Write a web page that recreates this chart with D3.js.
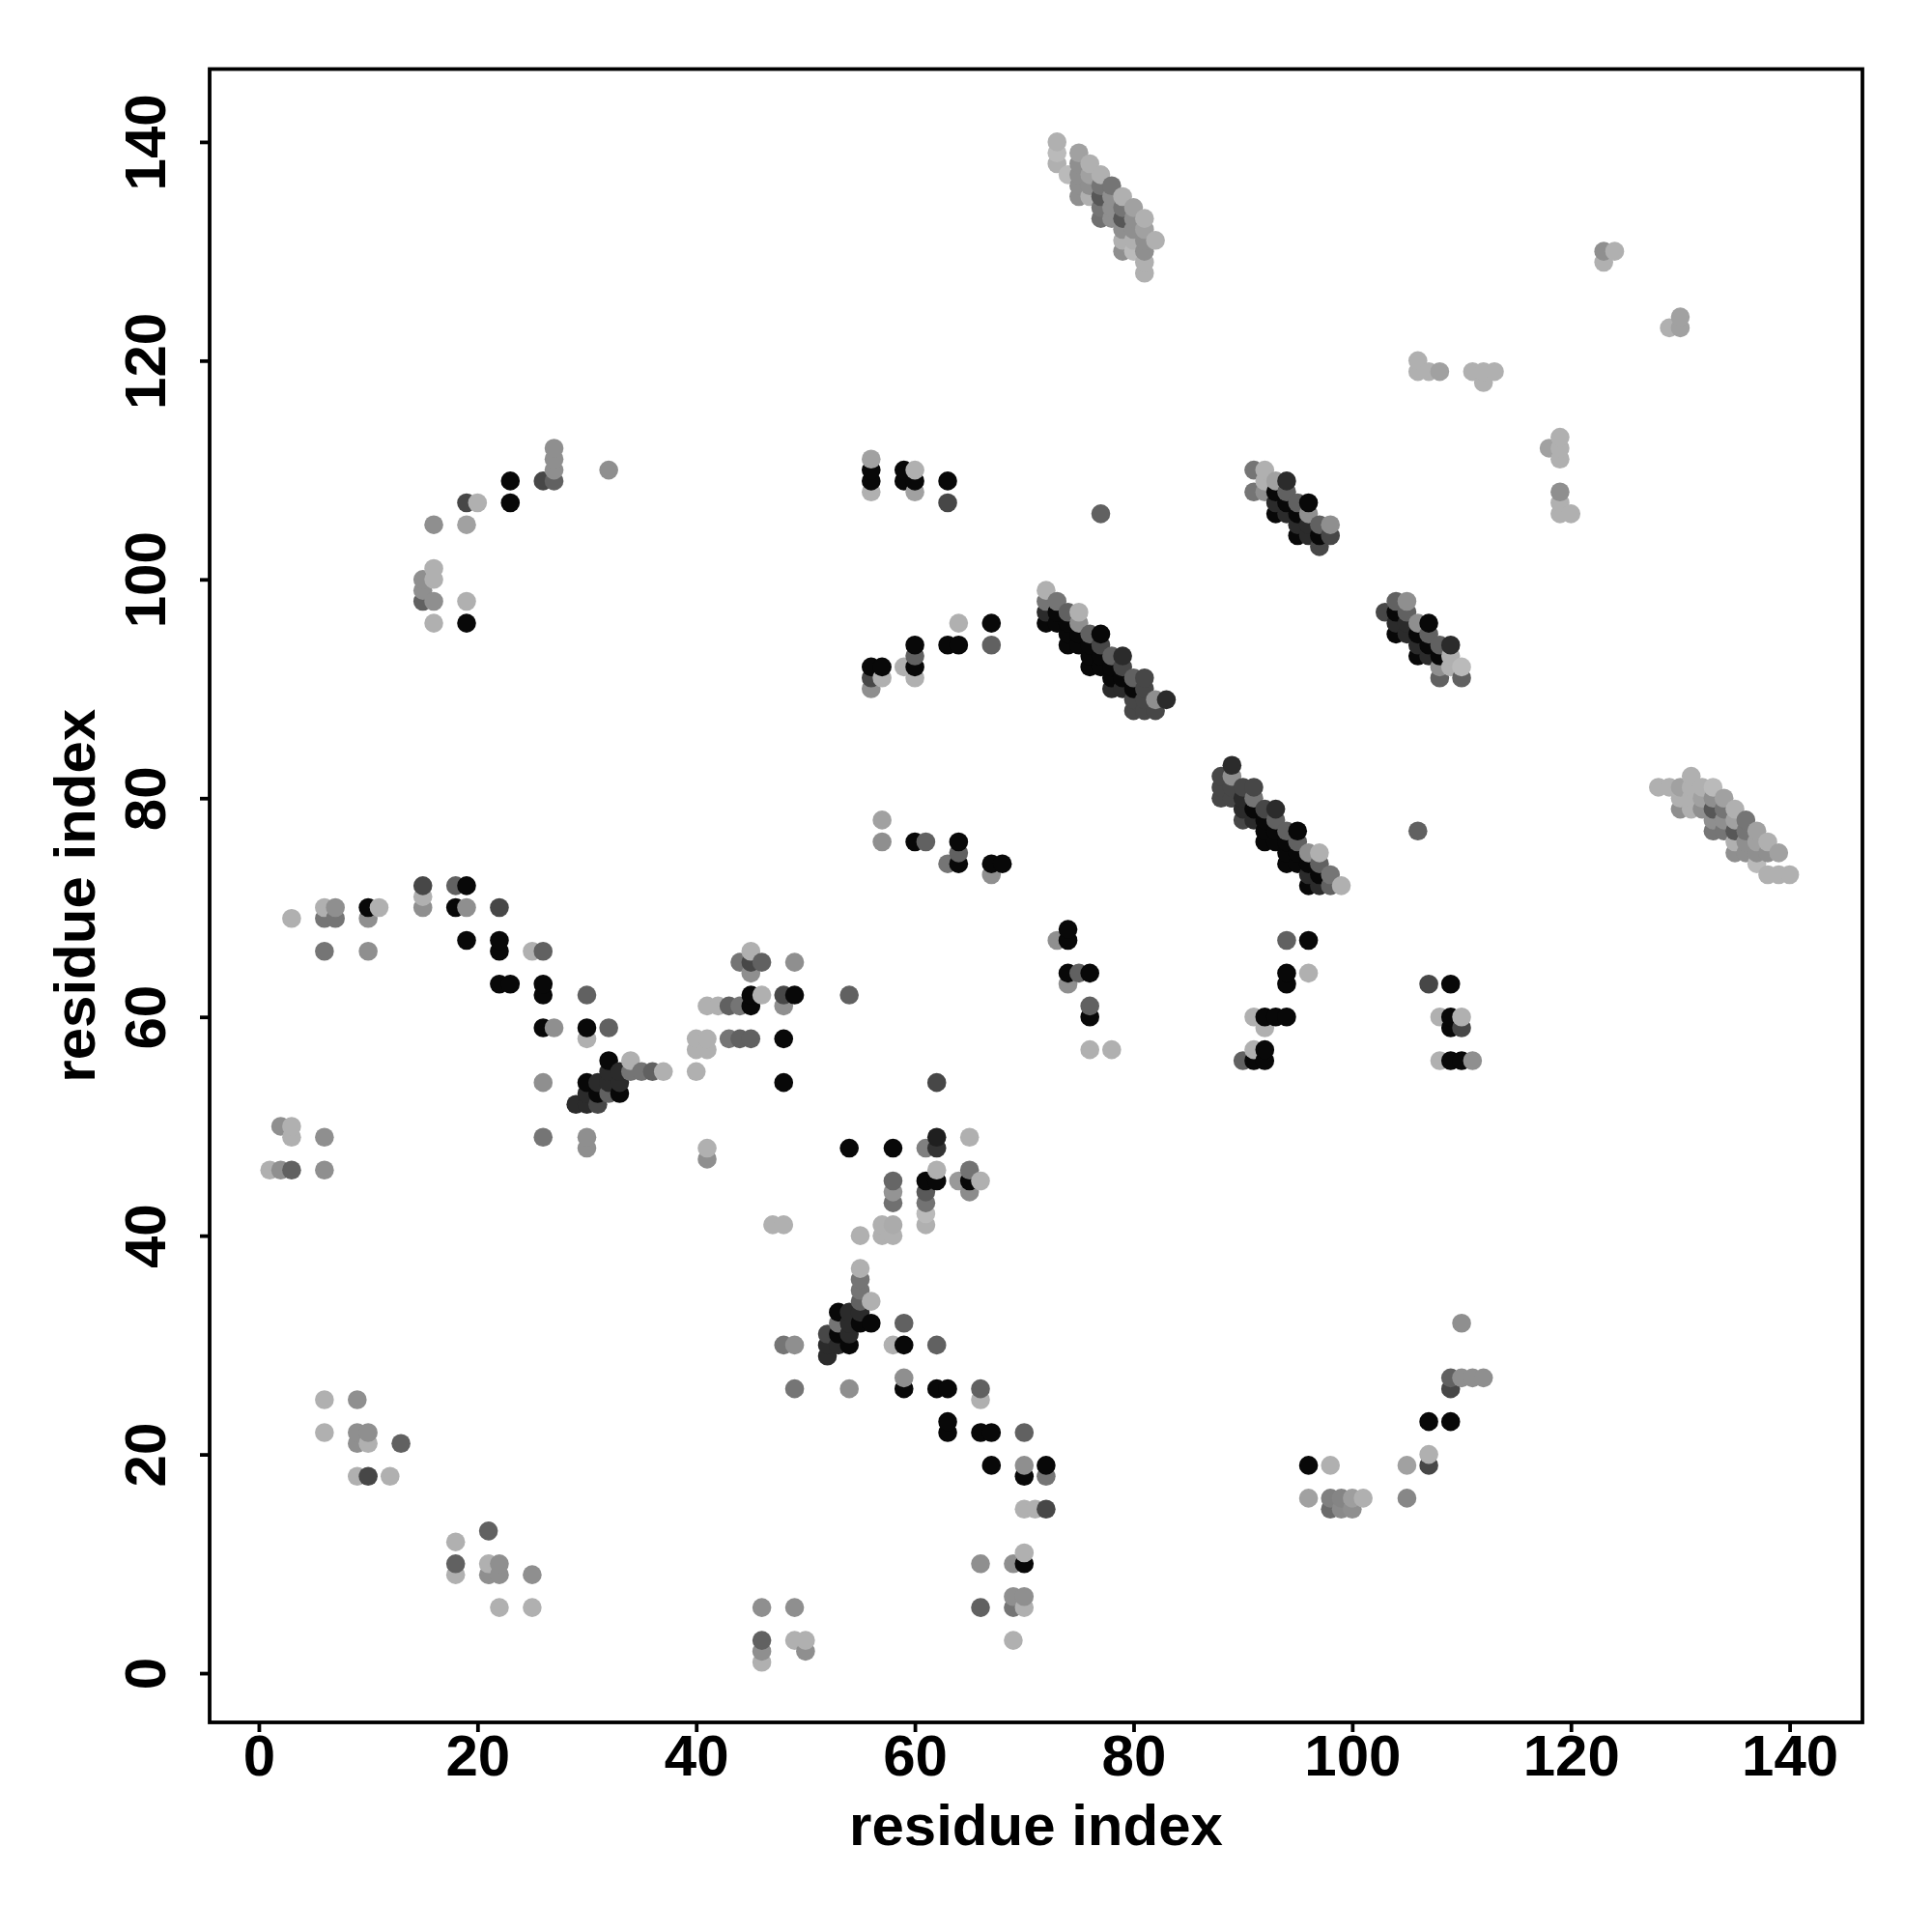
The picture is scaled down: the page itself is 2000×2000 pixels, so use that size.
<!DOCTYPE html>
<html><head><meta charset="utf-8">
<style>html,body{margin:0;background:#fff}svg{display:block}text{font-family:"Liberation Sans",Arial,sans-serif;font-weight:700;fill:#000}</style>
<script src="https://cdn.jsdelivr.net/npm/d3@7"></script></head><body>
<script>
const xTicks=[0,20,40,60,80,100,120,140];
const yTicks=[0,20,40,60,80,100,120,140];
const axisLabel="residue index";
const A=.27,L=.31,N=.37,M=.44,E=.54,D=.62,F=.72,V=.83,K=.97;
const bottomLeft=[[46,1,L],[46,2,M],[46,3,D],[46,6,M],[49,6,M],[49,3,L],[50,3,L],[50,2,M],[18,9,L],[18,10,D],[18,12,L],[21,13,D],[21,10,L],[21,9,M],[22,10,M],[22,9,M],[22,6,L],[25,9,M],[25,6,L],[6,25,L],[6,22,L],[9,25,M],[9,22,M],[9,21,M],[10,22,M],[10,21,L],[9,18,L],[10,18,F],[12,18,L],[13,21,D],[1,46,L],[2,46,M],[3,46,D],[6,46,M],[2,50,M],[3,50,L],[3,49,L],[6,49,M]];
const bottomMid=[[66,10,M],[66,6,D],[69,10,M],[70,10,K],[70,11,L],[69,7,M],[70,7,M],[69,6,E],[70,6,L],[69,3,L],[70,22,D],[70,19,M],[70,18,K],[72,19,K],[72,18,E],[70,15,L],[71,15,L],[72,15,F],[66,26,D],[66,25,L],[66,22,K],[67,22,K],[67,19,K],[63,23,K],[63,22,K],[62,26,K],[63,26,K],[59,26,K],[59,27,M],[62,30,D],[59,30,K],[58,30,L],[59,32,D],[54,26,M],[48,30,E],[49,30,M],[49,26,E]];
const clusterA=[[55,37,L],[55,36,E],[55,35,E],[55,34,D],[56,34,L],[53,33,K],[54,33,V],[55,33,V],[54,32,V],[55,32,K],[56,32,K],[53,32,E],[52,31,F],[53,31,K],[54,31,V],[52,30,V],[53,30,V],[54,30,K],[52,29,V]];
const clusterB=[[32,56,K],[34,56,L],[32,55,V],[33,55,V],[34,55,E],[35,55,E],[36,55,D],[37,55,L],[40,55,L],[30,54,K],[31,54,V],[32,54,V],[33,54,V],[30,53,V],[31,53,K],[32,53,D],[33,53,K],[29,52,V],[30,52,V],[31,52,F]];
const leftMid=[[3,69,L],[6,70,L],[7,70,M],[6,69,E],[7,69,E],[6,66,E],[10,70,K],[11,70,L],[10,69,M],[10,66,M],[15,72,F],[15,71,L],[15,70,M],[18,72,D],[19,72,K],[18,70,K],[19,70,M],[19,67,K],[22,70,F],[22,67,K],[22,66,K],[22,63,K],[23,63,K],[25,66,L],[26,66,D],[26,63,K],[26,62,K],[26,59,K],[27,59,M],[26,54,M],[26,49,E],[30,62,D],[30,59,K],[30,58,L],[32,59,D],[30,49,M],[30,48,M],[41,48,L],[41,47,M]];
const centerLeft=[[40,58,L],[41,58,L],[40,57,L],[41,57,L],[41,61,L],[42,61,L],[43,61,D],[44,61,E],[45,61,K],[45,62,K],[46,62,L],[43,58,E],[44,58,D],[45,58,D],[44,65,E],[45,66,L],[45,65,F],[45,64,M],[46,65,D],[49,65,M],[48,62,F],[49,62,K],[48,61,M],[48,58,K],[48,54,K],[54,62,D]];
const centerLow=[[47,41,L],[48,41,L],[54,48,K],[58,48,K],[58,45,.6],[58,44,.42],[58,43,.56],[61,48,.5],[62,49,.88],[62,48,.8],[62,46,L],[61,45,K],[62,45,K],[61,44,.65],[61,43,.55],[61,42,A],[61,41,L],[64,45,.4],[65,49,L],[65,46,.55],[65,45,K],[65,44,.45],[66,45,L],[62,54,F],[55,40,L],[57,41,L],[58,41,.33],[57,40,L],[58,40,L]];
const lowRight=[[96,19,K],[98,19,L],[96,16,N],[98,16,.5],[99,16,.48],[98,15,.58],[99,15,.46],[100,15,M],[100,16,.38],[101,16,L],[105,19,N],[105,16,.47],[107,20,L],[107,19,F],[107,23,K],[109,23,K],[109,26,F],[109,27,D],[110,27,M],[111,27,M],[112,27,M],[110,32,M]];
const upperLeft=[[15,100,M],[15,99,M],[15,98,D],[16,101,L],[16,100,L],[16,98,M],[16,96,L],[16,105,M],[19,98,L],[19,96,K],[19,105,N],[19,107,F],[20,107,L],[23,109,K],[23,107,K],[26,109,F],[27,109,D],[27,110,M],[27,111,M],[27,112,M],[32,110,M]];
const upperMid=[[56,111,N],[56,110,K],[56,109,K],[56,108,L],[59,110,K],[60,110,L],[59,109,K],[60,109,K],[60,108,N],[63,109,K],[63,107,F],[77,106,D],[56,92,K],[57,92,K],[56,91,F],[56,90,M],[57,91,L],[59,92,L],[60,94,K],[60,93,D],[60,92,K],[60,91,L],[63,94,K],[64,94,K],[64,96,L],[67,96,K],[67,94,D],[57,78,N],[57,76,M],[60,76,K],[61,76,D],[64,76,K],[64,75,D],[63,74,E],[64,74,K],[67,74,K],[68,74,K],[67,73,M]];
const midStrands=[[74,68,K],[73,67,M],[74,67,K],[74,64,K],[75,64,D],[76,64,K],[74,63,M],[76,61,D],[76,60,K],[76,57,L],[78,57,L],[96,67,K],[94,67,D],[94,64,K],[94,63,K],[96,64,L],[92,60,K],[93,60,K],[94,60,K],[91,60,L],[92,59,L],[91,57,L],[92,57,K],[90,56,D],[91,56,K],[92,56,K],[107,63,F],[109,63,K],[108,60,L],[109,60,K],[110,60,L],[109,59,K],[110,59,F],[108,56,L],[109,56,K],[110,56,K],[111,56,M],[106,77,D]];
const farRight=[[123,130,M],[124,130,L],[123,129,L],[129,123,L],[130,124,N],[130,123,N],[106,120,L],[106,119,L],[107,119,L],[108,119,N],[111,119,L],[112,119,L],[113,119,L],[112,118,L],[119,113,L],[118,112,N],[119,112,L],[119,111,L],[119,108,M],[119,107,L],[119,106,L],[120,106,L]];
const helixTop=[[73,140,L],[73,139,A],[73,138,L],[74,137,A],[75,139,N],[75,138,M],[75,137,M],[75,136,M],[75,135,M],[76,138,L],[76,137,N],[76,136,M],[76,135,L],[77,137,L],[77,136,E],[77,135,.66],[77,134,E],[77,133,.56],[78,136,E],[78,135,M],[78,134,M],[78,133,M],[79,135,L],[79,134,E],[79,133,.66],[79,132,M],[79,131,L],[79,130,M],[80,134,N],[80,133,M],[80,132,M],[80,131,L],[80,130,A],[81,133,L],[81,132,N],[81,131,M],[81,130,M],[81,129,L],[81,128,L],[82,131,L]];
const helixMain=[[72,99,L],[72,98,E],[72,97,V],[72,96,K],[73,98,E],[73,97,K],[73,96,K],[74,97,D],[74,96,K],[74,95,K],[74,94,K],[75,97,L],[75,96,M],[75,95,K],[75,94,K],[76,95,D],[76,94,K],[76,93,K],[76,92,K],[77,95,K],[77,94,F],[77,93,K],[77,92,K],[78,93,D],[78,92,K],[78,91,K],[78,90,V],[79,93,V],[79,92,F],[79,91,K],[79,90,V],[80,91,D],[80,90,K],[80,89,F],[80,88,F],[81,91,F],[81,90,F],[81,89,F],[81,88,F],[82,89,M],[82,88,F],[83,89,V]];
const helixLower=[[89,83,V],[89,82,M],[89,81,F],[89,80,F],[88,82,F],[88,81,F],[88,80,F],[90,81,F],[90,80,V],[90,79,V],[90,78,F],[91,81,F],[91,80,E],[91,79,K],[91,78,V],[92,79,F],[92,78,K],[92,77,K],[92,76,K],[93,79,V],[93,78,D],[93,77,K],[93,76,K],[94,77,D],[94,76,K],[94,75,K],[94,74,K],[95,77,K],[95,76,D],[95,75,K],[95,74,K],[96,75,M],[96,74,K],[96,73,V],[96,72,K],[97,75,L],[97,74,D],[97,73,K],[97,72,V],[98,73,E],[98,72,D],[99,72,L]];
const helixEnd=[[128,81,L],[129,81,L],[130,81,N],[130,80,L],[130,79,M],[131,82,L],[131,81,L],[131,80,L],[131,79,L],[132,81,L],[132,80,N],[132,79,M],[133,81,A],[133,80,M],[133,79,.66],[133,78,M],[133,77,E],[134,80,N],[134,79,E],[134,78,M],[134,77,E],[135,79,L],[135,78,N],[135,77,.66],[135,76,L],[135,75,M],[136,78,E],[136,77,E],[136,76,M],[136,75,M],[137,77,N],[137,76,N],[137,75,M],[137,74,A],[138,76,L],[138,75,M],[138,73,L],[139,75,N],[139,73,L],[140,73,L]];
const strandA=[[91,110,E],[92,110,L],[91,108,E],[92,109,L],[92,108,M],[93,109,N],[94,109,V],[93,108,K],[93,107,V],[93,106,K],[94,108,D],[94,107,K],[94,106,V],[95,107,D],[95,106,K],[95,105,V],[95,104,K],[96,107,K],[96,106,M],[96,105,V],[96,104,V],[97,105,D],[97,104,K],[97,103,F],[98,105,M],[98,104,F]];
const strandB=[[104,98,D],[105,98,M],[103,97,F],[104,97,K],[105,97,D],[104,96,V],[105,96,V],[104,95,K],[105,95,V],[106,96,M],[107,96,K],[106,95,K],[107,95,D],[106,94,V],[107,94,K],[106,93,K],[107,93,V],[108,94,D],[109,94,V],[108,93,K],[109,93,L],[108,92,M],[109,92,L],[110,92,A],[108,91,D],[110,91,D]];

const contacts=[bottomLeft,bottomMid,clusterA,clusterB,leftMid,centerLeft,centerLow,lowRight,upperLeft,upperMid,midStrands,farRight,helixTop,helixMain,helixLower,helixEnd,strandA,strandB].flat().map(d=>({i:d[0],j:d[1],s:d[2]}));
contacts.sort((a,b)=>d3.ascending(a.i,b.i)||d3.ascending(a.j,b.j));

const W=2000,H=2000;
const frame={l:217,r:1928,t:71.5,b:1783};
const domain=[-4.5,146.66];
const x=d3.scaleLinear().domain(domain).range([frame.l,frame.r]);
const y=d3.scaleLinear().domain(domain).range([frame.b,frame.t]);
const shade=d3.scaleLinear().domain([0,1]).range(["#ffffff","#000000"]);
const svg=d3.select("body").append("svg").attr("width",W).attr("height",H).attr("viewBox",[0,0,W,H]);

svg.append("g").selectAll("circle").data(contacts).join("circle")
  .attr("cx",d=>x(d.i)).attr("cy",d=>y(d.j)).attr("r",9.8).attr("fill",d=>shade(d.s));

svg.append("rect").attr("x",frame.l).attr("y",frame.t).attr("width",frame.r-frame.l).attr("height",frame.b-frame.t)
  .attr("fill","none").attr("stroke","#000").attr("stroke-width",3.8);

const gx=svg.append("g").attr("transform",`translate(0,${frame.b})`)
  .call(d3.axisBottom(x).tickValues(xTicks).tickSize(10).tickPadding(10).tickFormat(d3.format("d")));
const gy=svg.append("g").attr("transform",`translate(${frame.l},0)`)
  .call(d3.axisLeft(y).tickValues(yTicks).tickSize(10).tickFormat(d3.format("d")));
[gx,gy].forEach(g=>{g.select(".domain").remove();g.selectAll("line").attr("stroke","#000").attr("stroke-width",3.8);
  g.selectAll("text").attr("font-size",60).attr("font-family",'"Liberation Sans",Arial,sans-serif').attr("font-weight",700).attr("fill","#000");});
gx.selectAll("text").attr("dy",null).attr("y",null).attr("dominant-baseline","hanging").attr("transform","translate(0,12)");
gy.selectAll("text").attr("x",null).attr("dy",null).attr("text-anchor","middle")
  .attr("transform","translate(-62,0) rotate(-90)").attr("dominant-baseline","middle");

svg.append("text").attr("x",(frame.l+frame.r)/2).attr("y",1910).attr("text-anchor","middle").attr("font-size",60).text(axisLabel);
svg.append("text").attr("transform",`translate(98,${(frame.t+frame.b)/2}) rotate(-90)`).attr("text-anchor","middle").attr("font-size",60).text(axisLabel);
</script></body></html>
